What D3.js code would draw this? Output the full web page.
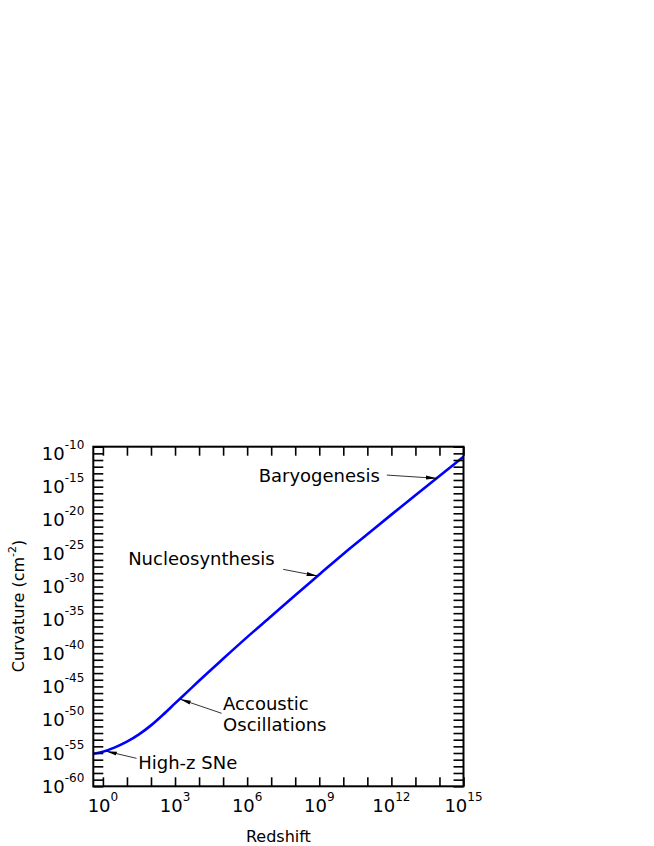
<!DOCTYPE html>
<html>
<head>
<meta charset="utf-8">
<script src="https://cdn.jsdelivr.net/npm/d3@7"></script>
<style>
  html, body { margin: 0; padding: 0; background: #fff; }
  svg { display: block; font-family: "DejaVu Sans", sans-serif; }
</style>
</head>
<body>
<svg id="chart" width="654" height="846"></svg>
<script>
// ---- data (log10 values) ----
const logRedshift = [-0.4, 0, 0.5, 1, 1.5, 2, 2.5, 3, 3.5, 4, 5, 6, 7, 8, 9, 10, 11, 12, 13, 14, 15];
const logCurvature = [-55.1, -54.8, -54.15, -53.3, -52.2, -50.85, -49.25, -47.55, -45.85, -44.15, -40.85, -37.6, -34.45, -31.3, -28.2, -25.1, -22.15, -19.2, -16.3, -13.4, -10.5];

const xTickExps = [0, 3, 6, 9, 12, 15];
const yTickExps = [-10, -15, -20, -25, -30, -35, -40, -45, -50, -55, -60];
const xMinorExps = d3.range(0, 16);
const yMinorExps = d3.range(-60, -8);

// annotations: label, label anchor (log z, log K), arrow start, arrow tip (on curve)
const annotLabels = [["Baryogenesis"], ["Nucleosynthesis"], ["Accoustic", "Oscillations"], ["High-z SNe"]];
const annotTextAt = [[11.52, -13.26], [1.05, -25.72], [5.0, -47.5], [1.47, -56.31]];
const annotAnchor = ["end", "start", "start", "start"];
const annotFrom = [[11.81, -13.26], [7.5, -27.42], [4.94, -49.04], [1.40, -55.8]];
const annotTip = [[13.89, -13.75], [8.93, -28.42], [3.2, -46.9], [0.125, -54.72]];

// ---- layout ----
const L = 93.3, R = 463.5, T = 446.7, B = 786.3;
const svg = d3.select("#chart");

const x = d3.scaleLog().domain([Math.pow(10, -0.4), 1e15]).range([L, R]);
const y = d3.scaleLog().domain([1e-60, 1e-9]).range([B, T]);

const pts = logRedshift.map((lz, i) => [Math.pow(10, lz), Math.pow(10, logCurvature[i])]);

// curve
svg.append("path")
  .datum(pts)
  .attr("fill", "none")
  .attr("stroke", "#0000ff")
  .attr("stroke-width", 2.6)
  .attr("d", d3.line().x(d => x(d[0])).y(d => y(d[1])).curve(d3.curveMonotoneX));

// ticks (inward), all four sides
const tickW = 1.6;
const xt = xMinorExps.map(e => Math.pow(10, e));
const yt = yMinorExps.map(e => Math.pow(10, e));

svg.append("g").attr("transform", `translate(0,${B})`)
  .call(d3.axisBottom(x).tickValues(xt).tickSize(-9).tickFormat(""))
  .call(g => g.select(".domain").remove())
  .selectAll("line").attr("stroke", "#000").attr("stroke-width", tickW);
svg.append("g").attr("transform", `translate(0,${T})`)
  .call(d3.axisTop(x).tickValues(xt).tickSize(-9).tickFormat(""))
  .call(g => g.select(".domain").remove())
  .selectAll("line").attr("stroke", "#000").attr("stroke-width", tickW);
svg.append("g").attr("transform", `translate(${L},0)`)
  .call(d3.axisLeft(y).tickValues(yt).tickSize(-10).tickFormat(""))
  .call(g => g.select(".domain").remove())
  .selectAll("line").attr("stroke", "#000").attr("stroke-width", tickW);
svg.append("g").attr("transform", `translate(${R},0)`)
  .call(d3.axisRight(y).tickValues(yt).tickSize(-10).tickFormat(""))
  .call(g => g.select(".domain").remove())
  .selectAll("line").attr("stroke", "#000").attr("stroke-width", tickW);

// frame
svg.append("rect")
  .attr("x", L).attr("y", T).attr("width", R - L).attr("height", B - T)
  .attr("fill", "none").attr("stroke", "#000").attr("stroke-width", 2);

// tick labels
function powLabel(sel, exp) {
  sel.append("tspan").text("10");
  sel.append("tspan").attr("dy", -11).attr("font-size", 12).text(String(exp));
}
xTickExps.forEach(e => {
  const t = svg.append("text")
    .attr("x", x(Math.pow(10, e)))
    .attr("y", B + 26)
    .attr("text-anchor", "middle")
    .attr("font-size", 18)
    .attr("fill", "#000");
  powLabel(t, e);
});
yTickExps.forEach(e => {
  const t = svg.append("text")
    .attr("x", L - 9)
    .attr("y", y(Math.pow(10, e)) + 6.5)
    .attr("text-anchor", "end")
    .attr("font-size", 18)
    .attr("fill", "#000");
  powLabel(t, e);
});

// axis titles
svg.append("text")
  .attr("x", (L + R) / 2).attr("y", B + 56)
  .attr("text-anchor", "middle").attr("font-size", 16)
  .text("Redshift");

const yt2 = svg.append("text")
  .attr("transform", `translate(24,${606}) rotate(-90)`)
  .attr("text-anchor", "middle").attr("font-size", 16);
yt2.append("tspan").text("Curvature (cm");
yt2.append("tspan").attr("dy", -8).attr("font-size", 11).text("-2");
yt2.append("tspan").attr("dy", 8).text(")");

// arrowhead marker
svg.append("defs").append("marker")
  .attr("id", "ah").attr("viewBox", "0 0 11 6")
  .attr("refX", 11).attr("refY", 3)
  .attr("markerWidth", 11).attr("markerHeight", 6)
  .attr("markerUnits", "userSpaceOnUse")
  .attr("orient", "auto")
  .append("path").attr("d", "M0,1 L11,3 L0,5 Z").attr("fill", "#000");

// annotations
annotLabels.forEach((lines, i) => {
  const tx = x(Math.pow(10, annotTextAt[i][0]));
  const ty = y(Math.pow(10, annotTextAt[i][1]));
  const t = svg.append("text")
    .attr("x", tx).attr("y", ty)
    .attr("text-anchor", annotAnchor[i])
    .attr("font-size", 18)
    .attr("dominant-baseline", "central");
  lines.forEach((ln, j) => {
    t.append("tspan").attr("x", tx).attr("dy", j === 0 ? 0 : 21).text(ln);
  });
  svg.append("line")
    .attr("x1", x(Math.pow(10, annotFrom[i][0]))).attr("y1", y(Math.pow(10, annotFrom[i][1])))
    .attr("x2", x(Math.pow(10, annotTip[i][0]))).attr("y2", y(Math.pow(10, annotTip[i][1])))
    .attr("stroke", "#000").attr("stroke-width", 0.8)
    .attr("marker-end", "url(#ah)");
});
</script>
</body>
</html>
